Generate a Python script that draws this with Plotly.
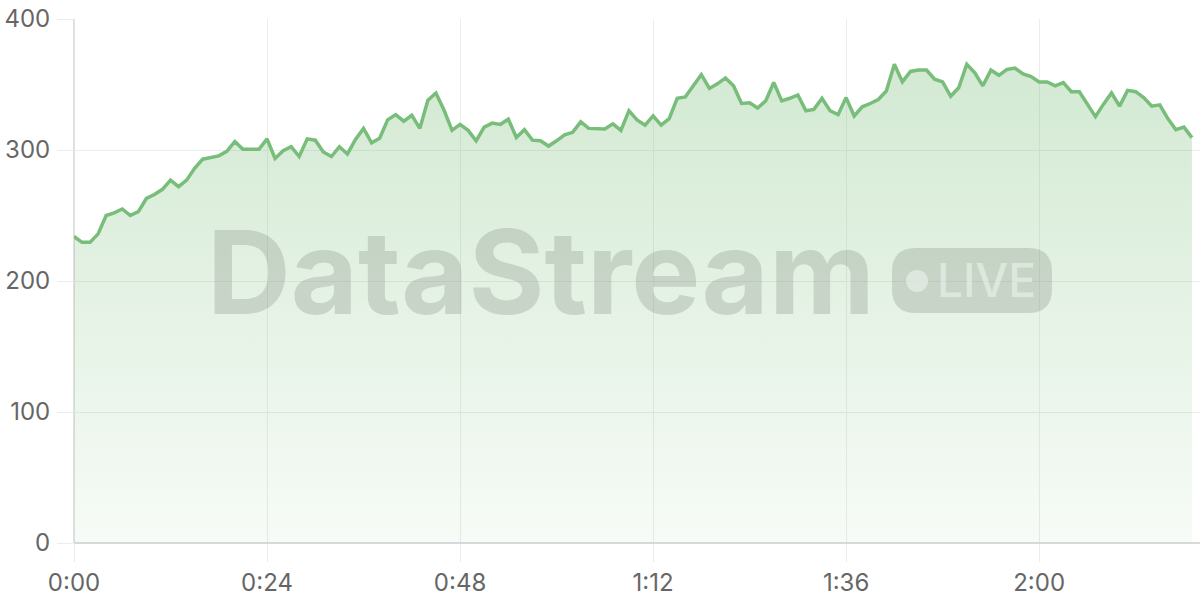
import plotly.graph_objects as go

minutes = list(range(140))
values = [
    234, 229.5, 229.5, 236, 250, 252, 255, 250, 253, 263,
    266, 270, 277, 272, 277, 286, 293, 294, 295.5, 299,
    306.5, 300.5, 300.5, 300.5, 308.5, 293.5, 299.5, 302.5, 295, 308.5,
    307.5, 298.5, 295, 302.5, 297, 308, 316.5, 305.5, 309, 323,
    327, 322, 326.5, 316.5, 338, 343.5, 330.5, 315, 319.5, 315,
    307, 317.5, 320.5, 319.5, 323.5, 309.5, 315.5, 307.5, 307, 303,
    307, 311.5, 313.5, 321.5, 316.5, 316, 316, 320, 315, 330,
    323, 319, 326, 319, 324, 339.5, 340.5, 349, 357.5, 347,
    350.5, 355, 349, 335.5, 336, 332, 337.5, 351.5, 337.5, 339.5,
    342, 330, 331, 339.5, 330, 327, 340, 326, 333, 335.5,
    338.5, 345, 365.5, 352, 360, 361, 361, 354, 352, 341,
    347.5, 365.5, 359, 349, 361, 357, 361.5, 362.5, 358, 356,
    352, 352, 349, 351.5, 344.5, 344.5, 335, 325.5, 335, 343.5,
    333.5, 345.5, 344.5, 340, 333.5, 334.5, 324, 315.5, 317.5, 309.5,
]
tick_vals = [0, 24, 48, 72, 96, 120]
tick_text = ["0:00", "0:24", "0:48", "1:12", "1:36", "2:00"]
y_ticks = [0, 100, 200, 300, 400]

LINE = "rgb(120,189,121)"

fig = go.Figure()
fig.add_trace(go.Scatter(
    x=minutes, y=values, mode="lines",
    line=dict(color=LINE, width=3.5),
    fill="tozeroy",
    fillgradient=dict(type="vertical", colorscale=[
        [0, "rgba(120,189,121,0.06)"],
        [1, "rgba(120,189,121,0.33)"],
    ]),
    hoverinfo="skip", showlegend=False,
))

# plot area pixel geometry (for watermark placement)
L, R, T, B = 74, 1200, 19, 543
def px(xp):
    return (xp - L) / (R - L)
def py(yp):
    return (B - yp) / (B - T)

WM = "rgba(125,138,124,0.28)"
KNOCK = "rgba(232,240,231,0.7)"
# rounded badge
x0, x1, y0, y1, r = 892, 1052, 248, 313, 24
path = (
    f"M {px(x0+r)},{py(y0)} L {px(x1-r)},{py(y0)} "
    f"Q {px(x1)},{py(y0)} {px(x1)},{py(y0+r)} "
    f"L {px(x1)},{py(y1-r)} Q {px(x1)},{py(y1)} {px(x1-r)},{py(y1)} "
    f"L {px(x0+r)},{py(y1)} Q {px(x0)},{py(y1)} {px(x0)},{py(y1-r)} "
    f"L {px(x0)},{py(y0+r)} Q {px(x0)},{py(y0)} {px(x0+r)},{py(y0)} Z"
)
fig.add_shape(type="path", xref="paper", yref="paper", path=path,
              fillcolor=WM, line=dict(width=0), layer="above")
fig.add_shape(type="circle", xref="paper", yref="paper",
              x0=px(906), x1=px(928), y0=py(292), y1=py(270),
              fillcolor=KNOCK, line=dict(width=0), layer="above")

fig.add_annotation(text="DataStream", xref="paper", yref="paper",
                   x=px(541), y=py(272), xanchor="center", yanchor="middle",
                   showarrow=False,
                   font=dict(family="Inter", size=116, color=WM, weight=700))
fig.add_annotation(text="LIVE", xref="paper", yref="paper",
                   x=px(986), y=py(280), xanchor="center", yanchor="middle",
                   showarrow=False,
                   font=dict(family="Inter", size=46, color=KNOCK, weight=500))

fig.update_layout(
    width=1200, height=600,
    margin=dict(l=L, r=0, t=T, b=600 - B, autoexpand=False),
    paper_bgcolor="white", plot_bgcolor="white",
    font=dict(family="Inter", size=24, color="#666"),
    xaxis=dict(range=[0, 140], tickvals=tick_vals, ticktext=tick_text,
               showgrid=True, gridcolor="#ececec", gridwidth=1,
               showline=False, zeroline=False, automargin=False,
               ticks="outside", ticklen=18, tickcolor="#ececec",
               ticklabelstandoff=0,
               tickfont=dict(size=24, color="#666")),
    yaxis=dict(range=[0, 400], tickvals=y_ticks,
               showgrid=True, gridcolor="#ececec", gridwidth=1,
               showline=False, zeroline=False, automargin=False,
               ticks="outside", ticklen=16, tickcolor="#ececec",
               ticklabelstandoff=2,
               tickfont=dict(size=24, color="#666")),
)
# axis lines
fig.add_shape(type="line", xref="paper", yref="paper", x0=0, x1=1, y0=0, y1=0,
              line=dict(color="#cccccc", width=1.5), layer="above")
fig.add_shape(type="line", xref="paper", yref="paper", x0=0, x1=0, y0=0, y1=1,
              line=dict(color="#d6d6d6", width=1.5), layer="below")

fig.write_html("out.html", config={"displayModeBar": False},
               post_script="document.body.style.margin='0';")
